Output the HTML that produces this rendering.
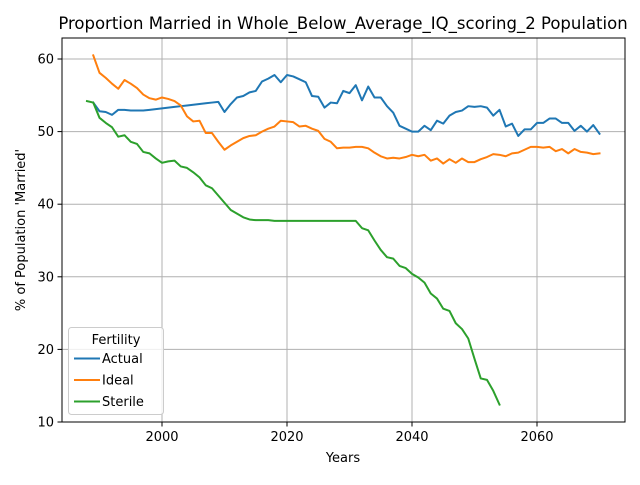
<!DOCTYPE html>
<html><head><meta charset="utf-8"><style>
body{margin:0;background:#fff;font-family:"Liberation Sans","DejaVu Sans",sans-serif}
svg text{font-family:"DejaVu Sans","Liberation Sans",sans-serif}
</style></head><body>
<svg id="chart" width="640" height="480" viewBox="0 0 640 480"></svg>
<script>
const actualStart=1989;
const actualValues=[54.0,52.8,52.7,52.3,53.0,53.0,52.9,52.9,52.9,53.0,53.1,53.2,53.3,53.4,53.5,53.6,53.7,53.8,53.9,54.0,54.1,52.7,53.8,54.7,54.9,55.4,55.6,56.9,57.3,57.8,56.8,57.8,57.6,57.2,56.8,54.9,54.8,53.3,54.0,53.9,55.6,55.3,56.4,54.3,56.2,54.7,54.7,53.5,52.6,50.8,50.4,50.0,50.0,50.8,50.2,51.5,51.1,52.2,52.7,52.9,53.5,53.4,53.5,53.3,52.2,53.0,50.7,51.1,49.4,50.3,50.3,51.2,51.2,51.8,51.8,51.2,51.2,50.1,50.8,50.0,50.9,49.7];
const idealStart=1989;
const idealValues=[60.5,58.1,57.4,56.6,55.9,57.1,56.6,56.0,55.1,54.6,54.4,54.7,54.5,54.2,53.6,52.1,51.4,51.5,49.8,49.8,48.6,47.5,48.1,48.6,49.1,49.4,49.5,50.0,50.4,50.7,51.5,51.4,51.3,50.7,50.8,50.4,50.1,49.0,48.6,47.7,47.8,47.8,47.9,47.9,47.7,47.1,46.6,46.3,46.4,46.3,46.5,46.8,46.6,46.8,46.0,46.3,45.6,46.2,45.7,46.3,45.8,45.8,46.2,46.5,46.9,46.8,46.6,47.0,47.1,47.5,47.9,47.9,47.8,47.9,47.3,47.6,47.0,47.6,47.2,47.1,46.9,47.0];
const sterileStart=1988;
const sterileValues=[54.2,54.0,51.9,51.2,50.6,49.3,49.5,48.6,48.3,47.2,47.0,46.3,45.7,45.9,46.0,45.2,45.0,44.4,43.7,42.6,42.2,41.2,40.2,39.2,38.7,38.2,37.9,37.8,37.8,37.8,37.7,37.7,37.7,37.7,37.7,37.7,37.7,37.7,37.7,37.7,37.7,37.7,37.7,37.7,36.7,36.4,35.0,33.7,32.7,32.5,31.5,31.2,30.4,29.9,29.2,27.7,27.0,25.6,25.3,23.6,22.8,21.5,18.7,16.0,15.8,14.3,12.4];
const xTicks=[2000,2020,2040,2060];
const yTicks=[10,20,30,40,50,60];

const L=62,R=625,T=38,B=422;
const x=v=>162+(v-2000)*6.25;
const y=v=>422-(v-10)*7.26;
const svg=document.getElementById('chart');
const NS='http://www.w3.org/2000/svg';
function mk(tag,attrs,parent){const e=document.createElementNS(NS,tag);for(const k in attrs)e.setAttribute(k,attrs[k]);(parent||svg).appendChild(e);return e;}

const grid=mk('g',{});


xTicks.forEach(t=>{
  const l=mk('line',{x1:x(t),x2:x(t),y1:T,y2:B,stroke:'#b0b0b0','stroke-width':1},grid);
  
  
  mk('line',{x1:x(t),x2:x(t),y1:B,y2:B+4.5,stroke:'#000','stroke-width':1});
  const tx=mk('text',{x:x(t),y:B+19,'text-anchor':'middle','font-size':13,fill:'#000'});
  tx.textContent=t;
  
  
});
yTicks.forEach(t=>{
  const l=mk('line',{x1:L,x2:R,y1:y(t),y2:y(t),stroke:'#b0b0b0','stroke-width':1},grid);
  
  
  mk('line',{x1:L-4.5,x2:L,y1:y(t),y2:y(t),stroke:'#000','stroke-width':1});
  const tx=mk('text',{x:L-8,y:y(t)+4.5,'text-anchor':'end','font-size':13,fill:'#000'});
  tx.textContent=t;
  
  
});

function series(start,vals,color,name){
  const pts=vals.map((v,i)=>x(start+i).toFixed(2)+','+y(v).toFixed(2)).join(' ');
  const p=mk('polyline',{points:pts,fill:'none',stroke:color,'stroke-width':2,'stroke-linejoin':'round','stroke-linecap':'square'});
  
  
}
series(actualStart,actualValues,'#1f77b4','actual-line');
series(idealStart,idealValues,'#ff7f0e','ideal-line');
series(sterileStart,sterileValues,'#2ca02c','sterile-line');

const frame=mk('rect',{x:L,y:T,width:R-L,height:B-T,fill:'none',stroke:'#000','stroke-width':1});



const title=mk('text',{x:343,y:29,'text-anchor':'middle','font-size':16.5,fill:'#000'});
title.textContent="Proportion Married in Whole_Below_Average_IQ_scoring_2 Population";


const xl=mk('text',{x:343,y:462,'text-anchor':'middle','font-size':13,fill:'#000'});
xl.textContent='Years';


const yl=mk('text',{x:0,y:0,'text-anchor':'middle','font-size':13,fill:'#000',transform:'translate(25,230) rotate(-90)'});
yl.textContent="% of Population 'Married'";



const lg=mk('g',{});


mk('rect',{x:68.5,y:327.5,width:95,height:87,rx:3,fill:'#fff','fill-opacity':0.8,stroke:'#ccc'},lg);
const lt=mk('text',{x:116,y:344,'text-anchor':'middle','font-size':13,fill:'#000'},lg);
lt.textContent='Fertility';


[['Actual','#1f77b4'],['Ideal','#ff7f0e'],['Sterile','#2ca02c']].forEach((d,i)=>{
  const yy=358.5+i*21.5;
  const g=mk('g',{},lg);
  
  
  mk('line',{x1:74,x2:100,y1:yy,y2:yy,stroke:d[1],'stroke-width':2},g);
  const t=mk('text',{x:102,y:yy+4.5,'font-size':13,fill:'#000'},g);
  t.textContent=d[0];
});
</script>
</body></html>
